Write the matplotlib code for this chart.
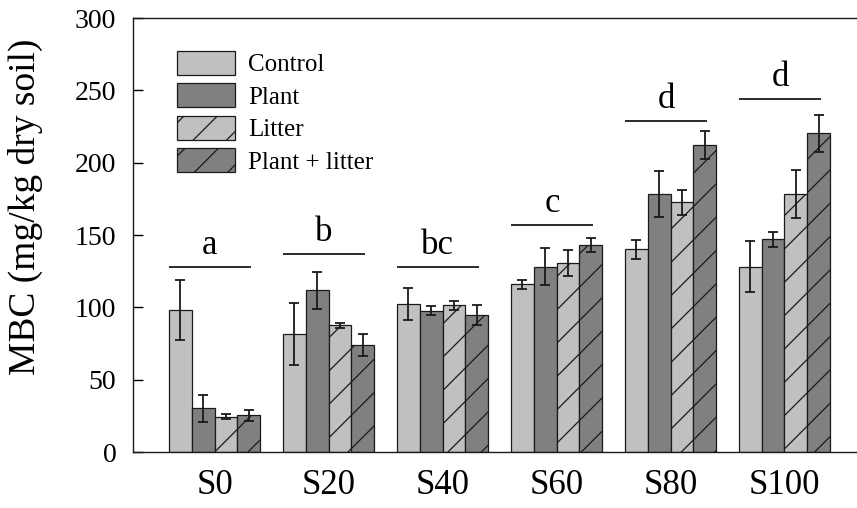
import matplotlib
matplotlib.use("Agg")
import matplotlib.pyplot as plt
import numpy as np

plt.rcParams['font.family'] = ['Liberation Serif', 'DejaVu Serif']
plt.rcParams['hatch.linewidth'] = 0.9

groups = ['S0', 'S20', 'S40', 'S60', 'S80', 'S100']
series = ['Control', 'Plant', 'Litter', 'Plant + litter']

control = [98.1, 81.5, 102.3, 115.9, 140.1, 128.1]
plant = [30.2, 111.7, 97.7, 128.1, 178.3, 147.0]
litter = [24.4, 87.5, 101.4, 130.6, 172.6, 178.5]
plant_litter = [25.3, 73.7, 94.5, 143.3, 212.2, 220.3]

control_err = [20.5, 21.5, 11.3, 3.2, 6.6, 17.7]
plant_err = [9.5, 13.0, 3.0, 12.7, 15.8, 5.3]
litter_err = [1.8, 2.0, 3.2, 9.2, 8.5, 16.6]
plant_litter_err = [4.0, 7.6, 7.0, 4.8, 9.7, 12.6]

letters = ['a', 'b', 'bc', 'c', 'd', 'd']
letter_line_y = [127.6, 136.8, 127.8, 156.7, 229.0, 244.0]

values = [control, plant, litter, plant_litter]
errors = [control_err, plant_err, litter_err, plant_litter_err]
colors = ['#c0c0c0', '#808080', '#c0c0c0', '#808080']
hatches = ['', '', '/', '/']

fig = plt.figure(figsize=(8.57, 5.08), dpi=100)
ax = fig.add_axes([0.1552, 0.1102, 0.8448, 0.8543])

x = np.arange(len(groups))
w = 0.2
for k in range(4):
    pos = x + (k - 1.5) * w
    ax.bar(pos, values[k], width=w, color=colors[k], edgecolor='#1a1a1a',
           linewidth=0.9, hatch=hatches[k], label=series[k], zorder=2)
    ax.errorbar(pos, values[k], yerr=errors[k], fmt='none', ecolor='#1a1a1a',
                elinewidth=1.3, capsize=3.5, capthick=1.3, zorder=3)

for i, (lt, ly) in enumerate(zip(letters, letter_line_y)):
    ax.plot([x[i] - 0.40, x[i] + 0.32], [ly, ly], color='#1a1a1a', lw=1.3,
            solid_capstyle='butt')
    ax.annotate(lt, xy=(x[i] - 0.04, ly), xytext=(0, 9.5), textcoords='offset points',
                ha='center', va='baseline', fontsize=25)

ax.set_xlim(-0.715, 5.636)
ax.set_ylim(0, 300)
ax.set_yticks(np.arange(0, 301, 50))
ax.set_xticks(x)
ax.set_xticklabels(groups, fontsize=25)
ax.tick_params(axis='x', length=0, pad=12)
ax.tick_params(axis='y', direction='in', length=7, width=1.0, labelsize=20, pad=12)
ax.spines['right'].set_visible(False)
for s in ['left', 'top', 'bottom']:
    ax.spines[s].set_linewidth(1.0)
    ax.spines[s].set_color('#1a1a1a')

ax.set_ylabel('MBC (mg/kg dry soil)', fontsize=27)
ax.yaxis.set_label_coords(-0.125, 0.565)

leg = ax.legend(loc='upper left', bbox_to_anchor=(0.061, 0.925), frameon=False,
                fontsize=18, handlelength=2.3, handleheight=1.1, labelspacing=0.28,
                handletextpad=0.55, borderpad=0, borderaxespad=0)

fig.savefig('out.png', dpi=100)
